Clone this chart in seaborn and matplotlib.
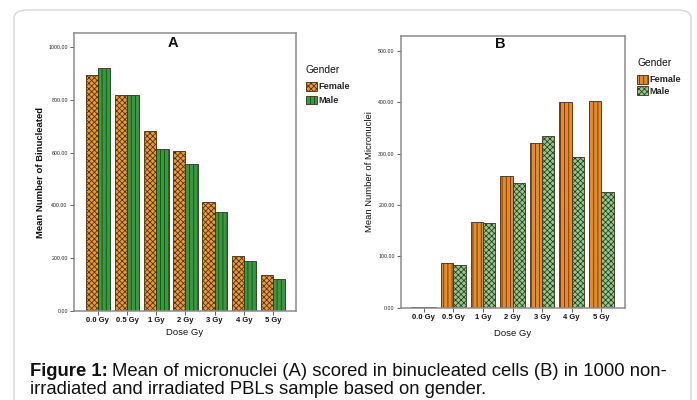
# %% MODULE BEGINS
module_name = 'figure1_gender'

'''
Description:
    Figure 1 - mean binucleated cells (A) and micronuclei (B) per dose,
    split by gender. SPSS style grouped bars with hatching.
'''

# %% IMPORTS                    ~~~~~~~~~~~~~~~~~~~~~~~~~~~~~~~~~~~~~~~~~~~~
from matplotlib import pyplot as plt
from matplotlib.patches import Patch, FancyBboxPatch
import seaborn as sns
import pandas as pd

# %% CONSTANTS                   ~~~~~~~~~~~~~~~~~~~~~~~~~~~~~~~~~~~~~~~~~~~~
doses = ['0.0 Gy', '0.5 Gy', '1 Gy', '2 Gy', '3 Gy', '4 Gy', '5 Gy']
genders = ['Female', 'Male']

# panel A - mean number of binucleated
binuc_female = [895, 817, 681, 605, 412, 207, 138]
binuc_male = [922, 817, 615, 557, 376, 189, 122]

# panel B - mean number of micronuclei
micro_female = [1, 87.5, 166.6, 256.8, 321, 399.5, 401.5]
micro_male = [2, 82.4, 164.7, 242.5, 334, 292.5, 224.4]

yticks_a = [0, 200, 400, 600, 800, 1000]
yticks_b = [0, 100, 200, 300, 400, 500]

W, H = 697, 400
EDGE = '#3a2e22'

# %% CONFIGURATION               ~~~~~~~~~~~~~~~~~~~~~~~~~~~~~~~~~~~~~~~~~~~~
sns.set_theme(style='white')
plt.rcParams['font.family'] = ['Liberation Sans', 'DejaVu Sans']
plt.rcParams['hatch.linewidth'] = 0.55


# Function definitions Start Here
def px(x, y):
    # pixel coords (from top left) -> figure fraction
    return x / W, 1 - y / H


def long_df(female, male):
    rows = []
    for d, f, m in zip(doses, female, male):
        rows.append({'Dose': d, 'Gender': 'Female', 'Value': f})
        rows.append({'Dose': d, 'Gender': 'Male', 'Value': m})
    return pd.DataFrame(rows)


def draw_panel(fig, rect, df, colors, hatches, yticks, ylim, xlim,
               ylabel, letter, letter_xy, leg_xy, leg_space, ylab_x, xlab_y,
               ybold):
    ax = fig.add_axes(rect)
    sns.barplot(data=df, x='Dose', y='Value', hue='Gender',
                hue_order=genders, order=doses, palette=colors,
                width=0.84, gap=0, saturation=1, legend=False, ax=ax)

    # SPSS like hatching on each hue group
    for cont, g in zip(ax.containers, genders):
        for bar in cont:
            bar.set_hatch(hatches[g])
            bar.set_edgecolor(EDGE)
            bar.set_linewidth(0.6)

    ax.set_ylim(*ylim)
    ax.set_xlim(*xlim)
    ax.set_yticks(yticks)
    ax.set_yticklabels(['%.2f' % t for t in yticks], fontsize=3.8,
                       color='#222222')
    ax.set_xticks(range(len(doses)))
    ax.set_xticklabels(doses, fontsize=5.5, fontweight='bold',
                       color='#111111')
    ax.tick_params(axis='both', which='both', length=3, width=0.6,
                   color='#444444', pad=1.5, bottom=True, left=True)

    for s in ax.spines.values():
        s.set_color('#8c8c8c')
        s.set_linewidth(1.1)

    ax.set_ylabel(ylabel, fontsize=6.8,
                  fontweight='bold' if ybold else 'normal', color='#111111')
    ax.set_xlabel('Dose Gy', fontsize=6.8, color='#111111')
    ax.yaxis.set_label_coords(ylab_x, 0.5)
    ax.xaxis.set_label_coords(0.5, xlab_y)

    ax.text(letter_xy[0], letter_xy[1], letter, transform=ax.transAxes,
            ha='center', va='center', fontsize=10.5, fontweight='bold',
            color='#111111')

    handles = [Patch(facecolor=colors[g], edgecolor=EDGE, hatch=hatches[g],
                     linewidth=0.6) for g in genders]
    leg = ax.legend(handles, genders, title='Gender', loc='upper left',
                    bbox_to_anchor=px(*leg_xy), bbox_transform=fig.transFigure,
                    frameon=False, borderpad=0, borderaxespad=0,
                    handlelength=1.15, handleheight=1.1, handletextpad=0.15,
                    labelspacing=leg_space, alignment='left',
                    prop={'size': 6.6, 'weight': 'bold'}, title_fontsize=7.4)
    leg.get_title().set_color('#111111')
    leg._legend_box.sep = 5
    return ax


def main():
    fig = plt.figure(figsize=(W / 100, H / 100), dpi=100)
    fig.patch.set_facecolor('white')

    # light rounded card outline (no fill so the panels stay visible)
    card = FancyBboxPatch(px(14, 460), 677 / W, 450 / H,
                          boxstyle='round,pad=0,rounding_size=0.02',
                          transform=fig.transFigure, facecolor='none',
                          edgecolor='#d6d6d6', linewidth=1.0, zorder=-1)
    fig.patches.append(card)

    # panel A
    draw_panel(fig, [74 / W, 1 - 311 / H, 222 / W, 278 / H],
               long_df(binuc_female, binuc_male),
               {'Female': '#f5981f', 'Male': '#2f9e3c'},
               {'Female': 'xxxxxx', 'Male': '||||'},
               yticks_a, (0, 1053), (-0.82, 6.79),
               'Mean Number of Binucleated', 'A', (0.446, 0.965),
               (306, 65), 0.45, -0.13, -0.062, True)

    # panel B
    draw_panel(fig, [401 / W, 1 - 307.7 / H, 224 / W, 271.7 / H],
               long_df(micro_female, micro_male),
               {'Female': '#ee8a1c', 'Male': '#86cf86'},
               {'Female': '||||', 'Male': 'xxxxxx'},
               yticks_b, (0, 528.6), (-0.775, 6.806),
               'Mean Number of Micronuclei', 'B', (0.442, 0.972),
               (637, 58), 0.2, -0.12, -0.078, False)

    # caption, bold lead-in then regular text
    r = fig.canvas.get_renderer()
    x0, y0 = px(30, 376)
    lead = fig.text(x0, y0, 'Figure 1:', fontsize=13.3, fontweight='bold',
                    va='baseline', color='#111111')
    bb = lead.get_window_extent(renderer=r)
    fig.text(bb.x1 / W + 4 / W, y0,
             'Mean of micronuclei (A) scored in binucleated cells (B) in 1000 non-',
             fontsize=13.3, va='baseline', color='#111111')
    fig.text(x0, px(0, 394)[1],
             'irradiated and irradiated PBLs sample based on gender.',
             fontsize=13.3, va='baseline', color='#111111')

    fig.savefig('out.png', dpi=100, facecolor='white')


# %% SELF-RUN                   ~~~~~~~~~~~~~~~~~~~~~~~~~~~~~~~~~~~~~~~~~~~~
if __name__ == "__main__":
    main()
